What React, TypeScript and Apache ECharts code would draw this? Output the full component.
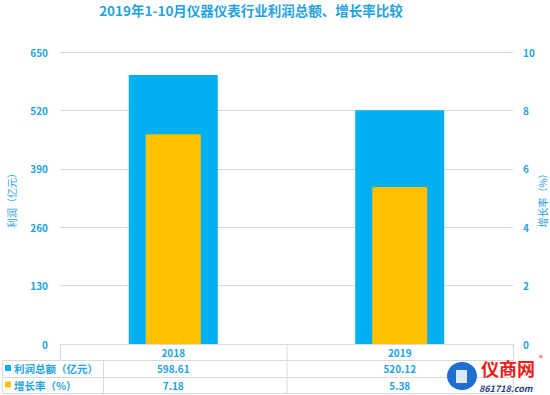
import React, { useEffect, useRef } from 'react';
import * as echarts from 'echarts';

const titleText = '2019年1-10月仪器仪表行业利润总额、增长率比较';
const categories = ['2018', '2019'];
const profit = [598.61, 520.12];
const growth = [7.18, 5.38];
const seriesNames = ['利润总额（亿元）', '增长率（%）'];
const leftAxisName = '利润（亿元）';
const rightAxisName = '增长率（%）';
const profitFmt = ['598.61', '520.12'];
const growthFmt = ['7.18', '5.38'];

const BLUE = '#00B0F0';
const ORANGE = '#FFC000';
const TXT = '#1FA3E3';
const LINE = '#D9D9D9';
const FONT = '"Noto Sans CJK SC", "Noto Sans", sans-serif';

export default function App() {
  const ref = useRef<HTMLDivElement>(null);
  useEffect(() => {
    if (!ref.current) return;
    const chart = echarts.init(ref.current, null, { renderer: 'svg' });
    const L = 60, R = 513, T = 52, B = 344;
    const option: any = {
      animation: false,
      backgroundColor: '#fff',
      textStyle: { fontFamily: FONT },
      title: {
        text: titleText,
        left: 251,
        textAlign: 'center',
        top: 3,
        padding: 0,
        textStyle: { color: TXT, fontSize: 13.5, fontWeight: 'bold', fontFamily: FONT },
      },
      grid: {
        left: L, right: 550 - R, top: T, bottom: 395 - B,
        containLabel: false, outerBoundsMode: 'none',
      },
      xAxis: [
        {
          type: 'category',
          data: categories,
          axisLine: { show: false },
          axisTick: { show: false },
          axisLabel: { color: TXT, fontSize: 10, fontWeight: 'bold', margin: 3, fontFamily: FONT },
        },
        {
          type: 'category',
          data: categories,
          show: false,
        },
      ],
      yAxis: [
        {
          type: 'value',
          min: 0,
          max: 650,
          interval: 130,
          name: leftAxisName,
          nameLocation: 'middle',
          nameRotate: 90,
          nameGap: 44,
          nameMoveOverlap: false,
          nameTextStyle: { color: TXT, fontSize: 10, fontFamily: FONT },
          axisLine: { show: false },
          axisTick: { show: false },
          axisLabel: { color: TXT, fontSize: 10, fontWeight: 'bold', margin: 12, fontFamily: FONT },
          splitLine: { lineStyle: { color: LINE, width: 1 } },
        },
        {
          type: 'value',
          min: 0,
          max: 10,
          interval: 2,
          position: 'right',
          name: rightAxisName,
          nameLocation: 'middle',
          nameRotate: 90,
          nameGap: 24,
          nameMoveOverlap: false,
          nameTextStyle: { color: TXT, fontSize: 10, fontFamily: FONT },
          axisLine: { show: false },
          axisTick: { show: false },
          axisLabel: { color: TXT, fontSize: 10, fontWeight: 'bold', margin: 10, fontFamily: FONT },
          splitLine: { show: false },
        },
      ],
      series: [
        {
          name: seriesNames[0],
          type: 'bar',
          xAxisIndex: 0,
          yAxisIndex: 0,
          data: profit,
          barWidth: 89,
          itemStyle: { color: BLUE },
        },
        {
          name: seriesNames[1],
          type: 'bar',
          xAxisIndex: 1,
          yAxisIndex: 1,
          data: growth,
          barWidth: 55,
          itemStyle: { color: ORANGE },
          z: 3,
        },
      ],
    };
    chart.setOption(option);

    const centers = categories.map((c) => chart.convertToPixel({ xAxisIndex: 0 }, c) as number);
    const mid = (R + L) / 2;
    const rowY = [344, 360, 377, 393];
    const ls = { stroke: LINE, lineWidth: 1 };
    const g: any[] = [];
    const line = (x1: number, y1: number, x2: number, y2: number) =>
      g.push({ type: 'line', shape: { x1, y1, x2, y2 }, style: ls, silent: true });
    line(L, rowY[0] + 0.5, R, rowY[0] + 0.5);
    line(2, rowY[1] + 0.5, R, rowY[1] + 0.5);
    line(2, rowY[2] + 0.5, R, rowY[2] + 0.5);
    line(2, rowY[3] + 0.5, R, rowY[3] + 0.5);
    line(L + 0.5, rowY[0], L + 0.5, rowY[1]);
    line(2.5, rowY[1], 2.5, rowY[3]);
    line(103.5, rowY[1], 103.5, rowY[3]);
    line(mid + 0.5, rowY[0], mid + 0.5, rowY[3]);
    line(R + 0.5, rowY[0], R + 0.5, rowY[3]);

    const rowVals = [profitFmt, growthFmt];
    const keyColors = [BLUE, ORANGE];
    seriesNames.forEach((name, i) => {
      const cy = (rowY[i + 1] + rowY[i + 2]) / 2;
      g.push({ type: 'rect', shape: { x: 5, y: cy - 3.5, width: 6, height: 6 }, style: { fill: keyColors[i] } });
      g.push({
        type: 'text',
        x: 14,
        y: cy,
        style: { text: name, fill: TXT, font: `bold 10.5px ${FONT}`, verticalAlign: 'middle' },
      });
      rowVals[i].forEach((v, j) => {
        g.push({
          type: 'text',
          x: centers[j],
          y: cy,
          style: { text: v, fill: TXT, font: `bold 10px ${FONT}`, align: 'center', verticalAlign: 'middle' },
        });
      });
    });

    // watermark logo
    g.push({ type: 'ellipse', shape: { cx: 462, cy: 376, rx: 15, ry: 14 }, style: { fill: '#1E6FD0' } });
    g.push({ type: 'rect', shape: { x: 456, y: 370, width: 11, height: 13 }, style: { fill: '#fff', opacity: 0.85 } });
    g.push({
      type: 'text', x: 481, y: 368,
      style: { text: '仪商网', fill: '#E8201A', font: `bold 18px ${FONT}`, verticalAlign: 'middle' },
    });
    g.push({
      type: 'text', x: 539, y: 357,
      style: { text: '®', fill: '#E8201A', font: `8px ${FONT}`, verticalAlign: 'middle' },
    });
    g.push({
      type: 'text', x: 479, y: 388,
      style: { text: '861718.com', fill: '#1E3F8C', font: `italic bold 9px ${FONT}`, verticalAlign: 'middle' },
    });

    chart.setOption({ graphic: { elements: g } });
    return () => chart.dispose();
  }, []);
  return <div ref={ref} style={{ position: 'fixed', left: 0, top: 0, width: 550, height: 395 }} />;
}
